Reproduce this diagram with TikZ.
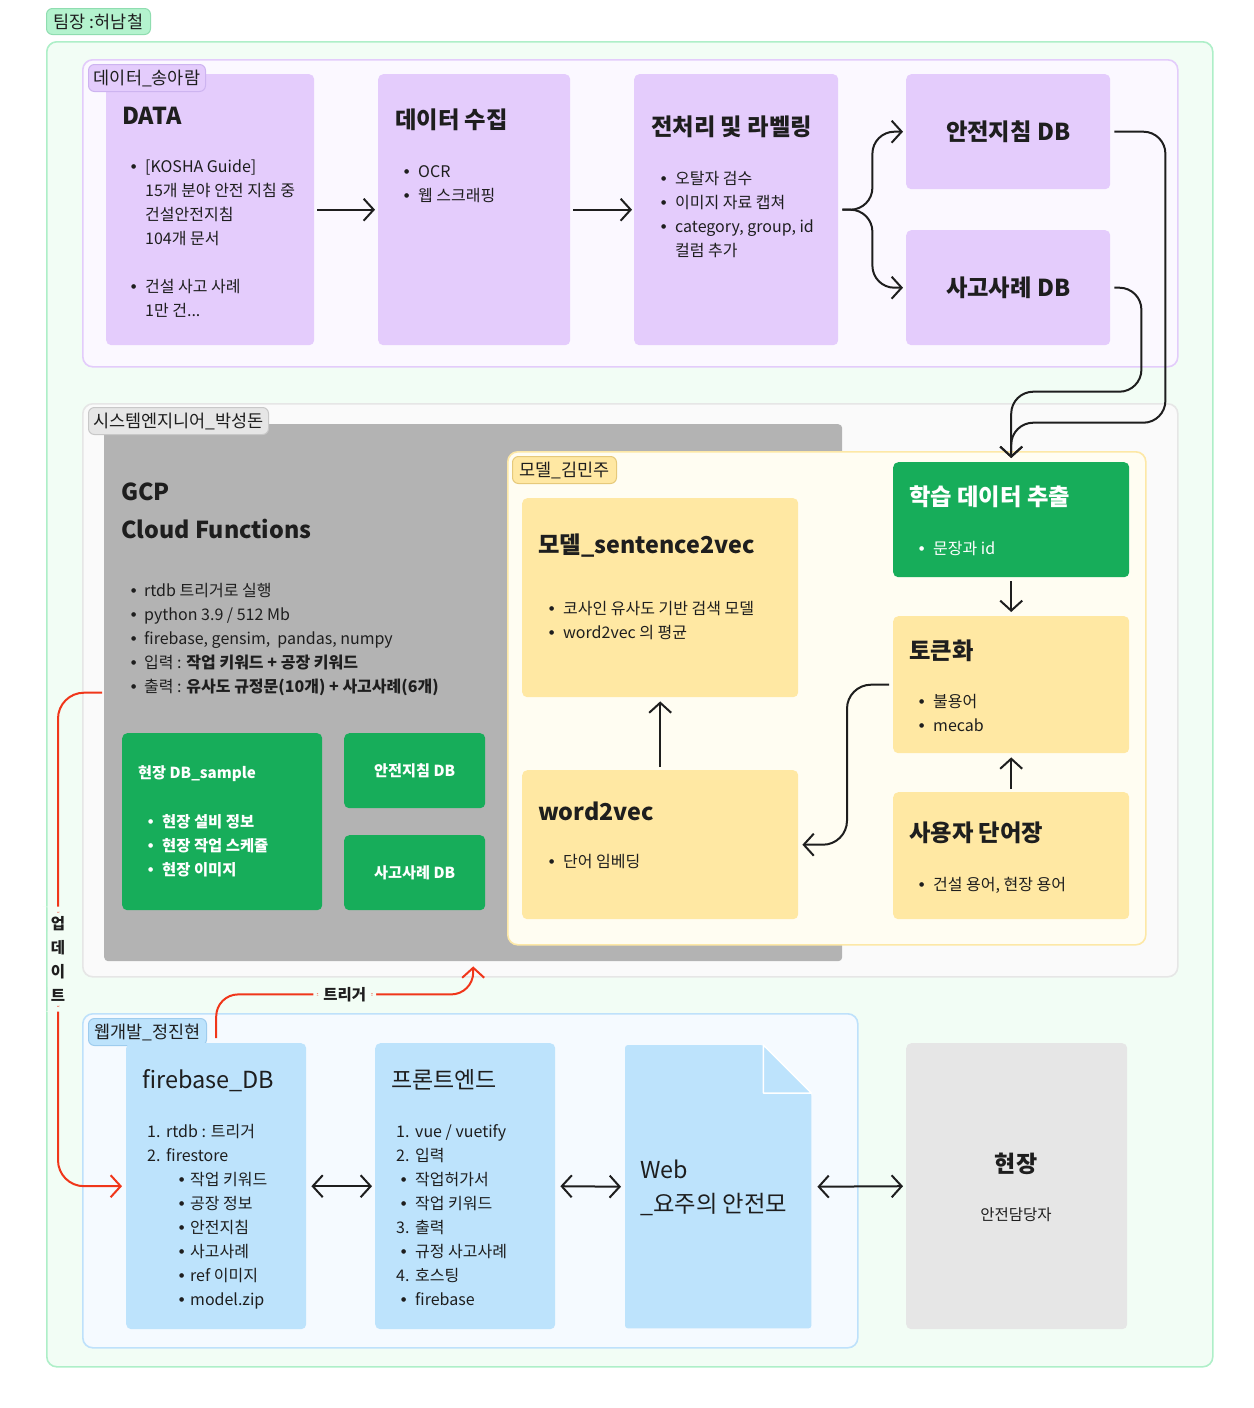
\documentclass[tikz,border=0pt]{standalone}
\usepackage{fontspec}
\setmainfont{Noto Sans CJK KR}
\newfontfamily\bulf{DejaVu Sans}
\usetikzlibrary{arrows.meta,calc}
\definecolor{ink}{HTML}{1E1E1E}
\definecolor{teamfill}{HTML}{F2FDF5}
\definecolor{teamdraw}{HTML}{AEEFC8}
\definecolor{teamlblf}{HTML}{B4F3CE}
\definecolor{teamlbld}{HTML}{8FDDB0}
\definecolor{dgrpf}{HTML}{FBF8FF}
\definecolor{dgrpd}{HTML}{E3CCFB}
\definecolor{purp}{HTML}{E4CCFC}
\definecolor{purpd}{HTML}{CDB4F0}
\definecolor{sgrpf}{HTML}{FAFAFA}
\definecolor{sgrpd}{HTML}{E6E6E6}
\definecolor{slblf}{HTML}{E6E6E6}
\definecolor{slbld}{HTML}{C8C8C8}
\definecolor{gcpf}{HTML}{B3B3B3}
\definecolor{grn}{HTML}{17AD5A}
\definecolor{mgrpf}{HTML}{FFFDF2}
\definecolor{mgrpd}{HTML}{FDE8A6}
\definecolor{mlbld}{HTML}{E6C97A}
\definecolor{yel}{HTML}{FFE8A3}
\definecolor{wgrpf}{HTML}{F5FAFF}
\definecolor{wgrpd}{HTML}{BEE1FB}
\definecolor{wlbld}{HTML}{9ECCEE}
\definecolor{blu}{HTML}{BDE3FC}
\definecolor{sitef}{HTML}{E6E6E6}
\definecolor{redc}{HTML}{F0361A}
\newcommand\bul{\raisebox{3.6pt}{\bulf\fontsize{6}{8}\selectfont ●}}
\newcommand\bi{\makebox[14pt][l]{\bul}}
\newcommand\ind{\hspace*{14pt}}
\newcommand\nm[1]{\makebox[19pt][l]{#1}}
\newcommand\sbi{\hspace*{32pt}\makebox[11pt][l]{\bul}}
\newcommand\fbi{\hspace*{5pt}\makebox[14pt][l]{\bul}}
\begin{document}
\begin{tikzpicture}[x=1pt,y=-1pt,
  grp/.style={draw, line width=1.6pt, rounded corners=10pt, anchor=north west, inner sep=0pt},
  box/.style={rounded corners=5pt, anchor=north west, inner sep=0pt},
  lbl/.style={draw, line width=1pt, rounded corners=6pt, anchor=north west, inner sep=0pt, text=ink, font=\fontsize{17.5}{20}\selectfont},
  ttl/.style={anchor=west, inner sep=0pt, font=\fontsize{23.3}{26}\selectfont\bfseries, text=ink},
  ttlr/.style={anchor=west, inner sep=0pt, font=\fontsize{23.5}{26}\selectfont, text=ink},
  body/.style={anchor=north west, inner sep=0pt, align=left, font=\fontsize{16}{24}\selectfont, text=ink},
  conn/.style={line width=2pt, draw=ink, -{Straight Barb[length=10pt,width=22pt]}},
  dconn/.style={line width=2pt, draw=ink, {Straight Barb[length=10pt,width=22pt]}-{Straight Barb[length=10pt,width=22pt]}},
  rconn/.style={line width=2pt, draw=redc, -{Straight Barb[length=10pt,width=22pt]}},
  clbl/.style={fill=teamfill, text=ink, font=\fontsize{15.5}{24}\selectfont\bfseries, align=center}
]
\useasboundingbox (0,0) rectangle (1253,1408);
% team
\node[grp, draw=teamdraw, fill=teamfill, minimum width=1166pt, minimum height=1325pt] (team) at (46,41) {};
\node[lbl, draw=teamlbld, fill=teamlblf, minimum width=104pt, minimum height=26pt] (teamlbl) at (46,8) {팀장 :허남철};
% groups
\node[grp, draw=dgrpd, fill=dgrpf, minimum width=1095pt, minimum height=307pt] (dgrp) at (82,59) {};
\node[grp, draw=sgrpd, fill=sgrpf, minimum width=1095pt, minimum height=573pt] (sgrp) at (82,403) {};
\node[grp, draw=wgrpd, fill=wgrpf, minimum width=775pt, minimum height=334pt] (wgrp) at (82,1013) {};
% data boxes
\node[box, fill=purp, minimum width=208pt, minimum height=271pt] (data) at (106,74) {};
\node[box, fill=purp, minimum width=192pt, minimum height=271pt] (col) at (378,74) {};
\node[box, fill=purp, minimum width=204pt, minimum height=271pt] (prep) at (634,74) {};
\node[box, fill=purp, minimum width=204pt, minimum height=115pt, font=\fontsize{23.3}{26}\selectfont\bfseries, text=ink] (sdb) at (906,74) {안전지침 DB};
\node[box, fill=purp, minimum width=204pt, minimum height=115pt, font=\fontsize{23.3}{26}\selectfont\bfseries, text=ink] (adb) at (906,230) {사고사례 DB};
\node[lbl, draw=purpd, fill=purp, minimum width=117pt, minimum height=27pt] (dlbl) at (88,64) {데이터\_송아람};
\node[ttl] (datat) at (122,116) {DATA};
\node[body] (datab) at (131,155) {\strut\bi[KOSHA Guide]\\\ind 15개 분야 안전 지침 중\\\ind 건설안전지침\\\ind 104개 문서\\[24pt]\bi 건설 사고 사례\\\ind 1만 건...};
\node[ttl] (colt) at (395,120) {데이터 수집};
\node[body] (colb) at (404,160) {\strut\bi OCR\\\bi 웹 스크래핑};
\node[ttl] (prept) at (651,127) {전처리 및 라벨링};
\node[body] (prepb) at (661,167) {\strut\bi 오탈자 검수\\\bi 이미지 자료 캡쳐\\\bi category, group, id\\\ind 컬럼 추가};
% system
\node[box, fill=gcpf, rounded corners=4pt, minimum width=738pt, minimum height=537pt] (gcp) at (104,424) {};
\node[lbl, draw=slbld, fill=slblf, minimum width=180pt, minimum height=27pt] (slbl) at (88,407) {시스템엔지니어\_박성돈};
\node[ttl] (gcpt1) at (121,492) {GCP};
\node[ttl] (gcpt2) at (121,529) {Cloud Functions};
\node[body] (gcpb) at (131,579) {\strut\makebox[13pt][l]{\bul}rtdb 트리거로 실행\\\makebox[13pt][l]{\bul}python 3.9 / 512 Mb\\\makebox[13pt][l]{\bul}firebase, gensim,\ \ pandas, numpy\\\makebox[13pt][l]{\bul}입력 : \textbf{작업 키워드 + 공장 키워드}\\\makebox[13pt][l]{\bul}출력 : \textbf{유사도 규정문(10개) + 사고사례(6개)}};
\node[box, fill=grn, minimum width=200pt, minimum height=177pt] (fdb) at (122,733) {};
\node[anchor=west, inner sep=0pt, text=white, font=\fontsize{15.2}{24}\selectfont\bfseries] (fdbt) at (138,774) {현장 DB\_sample};
\node[body, text=white, font=\fontsize{15.4}{24}\selectfont\bfseries] (fdbb) at (148,810) {\strut\makebox[14pt][l]{\bul}현장 설비 정보\\\makebox[14pt][l]{\bul}현장 작업 스케쥴\\\makebox[14pt][l]{\bul}현장 이미지};
\node[box, fill=grn, minimum width=141pt, minimum height=75pt, text=white, font=\fontsize{15.2}{24}\selectfont\bfseries] (gsdb) at (344,733) {안전지침 DB};
\node[box, fill=grn, minimum width=141pt, minimum height=75pt, text=white, font=\fontsize{15.2}{24}\selectfont\bfseries] (gadb) at (344,835) {사고사례 DB};
% model
\node[grp, draw=mgrpd, fill=mgrpf, minimum width=638pt, minimum height=493pt] (mgrp) at (507,451) {};
\node[lbl, draw=mlbld, fill=yel, minimum width=104pt, minimum height=27pt] (mlbl) at (512,456) {모델\_김민주};
\node[box, fill=yel, minimum width=276pt, minimum height=199pt] (s2v) at (522,498) {};
\node[box, fill=yel, minimum width=276pt, minimum height=149pt] (w2v) at (522,770) {};
\node[box, fill=grn, minimum width=236pt, minimum height=115pt] (lde) at (893,462) {};
\node[box, fill=yel, minimum width=236pt, minimum height=137pt] (tok) at (893,616) {};
\node[box, fill=yel, minimum width=236pt, minimum height=127pt] (user) at (893,792) {};
\node[ttl] (s2vt) at (538,546) {모델\_sentence2vec};
\node[body] (s2vb) at (549,597) {\strut\bi 코사인 유사도 기반 검색 모델\\\bi word2vec 의 평균};
\node[ttl] (w2vt) at (538,811) {word2vec};
\node[body] (w2vb) at (549,850) {\strut\bi 단어 임베딩};
\node[ttl, text=white] (ldet) at (909,497) {학습 데이터 추출};
\node[body, text=white] (ldeb) at (919,537) {\strut\makebox[14pt][l]{\color{white}\bul}문장과 id};
\node[ttl] (tokt) at (909,651) {토큰화};
\node[body] (tokb) at (919,690) {\strut\bi 불용어\\\bi mecab};
\node[ttl] (usert) at (909,833) {사용자 단어장};
\node[body] (userb) at (919,873) {\strut\bi 건설 용어, 현장 용어};
% web
\node[lbl, draw=wlbld, fill=blu, minimum width=118pt, minimum height=27pt] (wlbl) at (88,1018) {웹개발\_정진현};
\node[box, fill=blu, minimum width=180pt, minimum height=286pt] (fb) at (126,1043) {};
\node[box, fill=blu, minimum width=180pt, minimum height=286pt] (fe) at (375,1043) {};
\node[anchor=north west, inner sep=0pt, minimum width=186pt, minimum height=283pt] (web) at (625,1045) {};
\fill[blu, rounded corners=3pt] (web.south west) -- (web.north west) -- ([xshift=-48pt]web.north east) -- ([yshift=-48pt]web.north east) -- (web.south east) -- cycle;
\filldraw[fill=blu, draw=white, line width=1.5pt, line join=round] ([xshift=-48pt]web.north east) -- ([xshift=-48pt,yshift=-48pt]web.north east) -- ([yshift=-48pt]web.north east) -- cycle;
\node[box, fill=sitef, minimum width=221pt, minimum height=286pt] (site) at (906,1043) {};
\node[ttlr] (fbt) at (142,1081) {firebase\_DB};
\node[body] (fbb) at (147,1120) {\strut\nm{1.}rtdb : 트리거\\\nm{2.}firestore\\\sbi 작업 키워드\\\sbi 공장 정보\\\sbi 안전지침\\\sbi 사고사례\\\sbi ref 이미지\\\sbi model.zip};
\node[ttlr, font=\fontsize{23}{26}\selectfont] (fet) at (391,1080) {프론트엔드};
\node[body] (feb) at (396,1120) {\strut\nm{1.}vue / vuetify\\\nm{2.}입력\\\fbi 작업허가서\\\fbi 작업 키워드\\\nm{3.}출력\\\fbi 규정 사고사례\\\nm{4.}호스팅\\\fbi firebase};
\node[ttlr, font=\fontsize{23.3}{26}\selectfont] (webt1) at (640,1169) {Web};
\node[ttlr, font=\fontsize{23.3}{26}\selectfont] (webt2) at (640,1204) {\_요주의 안전모};
\node[inner sep=0pt, font=\fontsize{23}{26}\selectfont\bfseries, text=ink] (sitet) at (1016,1164) {현장};
\node[inner sep=0pt, font=\fontsize{15.5}{18}\selectfont, text=ink] (siteb) at (1016,1215) {안전담당자};
% connectors
\draw[conn] ([xshift=3pt]data.east) -- ([xshift=-3pt]col.west);
\draw[conn] ([xshift=3pt]col.east) -- ([xshift=-2pt]prep.west);
\draw[conn, rounded corners=22pt] ([xshift=4pt]prep.east) -- ++(30,0) |- ([xshift=-3pt]sdb.west);
\draw[conn, rounded corners=22pt] ([xshift=4pt]prep.east) -- ++(30,0) |- ([xshift=-3pt]adb.west);
\draw[conn, rounded corners=22pt] ([xshift=4pt]sdb.east) -- ++(51,0) -- ++(0,291) -| ([yshift=4pt]lde.north);
\draw[conn, rounded corners=22pt] ([xshift=4pt]adb.east) -- ++(27,0) -- ++(0,104) -| ([yshift=4pt]lde.north);
\draw[conn] ([yshift=-4pt]lde.south) -- ([yshift=4pt]tok.north);
\draw[conn] ([yshift=3pt]user.north) -- ([yshift=-4pt]tok.south);
\draw[conn] ([yshift=3pt]w2v.north) -- ([yshift=-4pt]s2v.south);
\draw[conn, rounded corners=24pt] ([xshift=-4pt]tok.west) -- ++(-42,0) |- ([xshift=4pt]w2v.east);
\draw[dconn] ([xshift=5pt]fb.east) -- ([xshift=-3pt]fe.west);
\draw[dconn] ([xshift=5pt]fe.east) -- ([xshift=-4pt]web.west);
\draw[dconn] ([xshift=6pt]web.east) -- ([xshift=-3pt]site.west);
\draw[rconn, rounded corners=26pt] ([xshift=-2pt]gcp.west) -- ++(-44,0) |- ([xshift=-4pt]fb.west) node[clbl, pos=0.27, inner xsep=3pt, inner ysep=10pt] (upd) {업\\데\\이\\트};
\draw[rconn, rounded corners=22pt] ([yshift=5pt]fb.north) |- ([yshift=-33pt]gcp.south) node[clbl, pos=0.75, inner xsep=10pt, inner ysep=2pt] (trg) {트리거} -- ([yshift=-5pt]gcp.south);
\end{tikzpicture}
\end{document}
